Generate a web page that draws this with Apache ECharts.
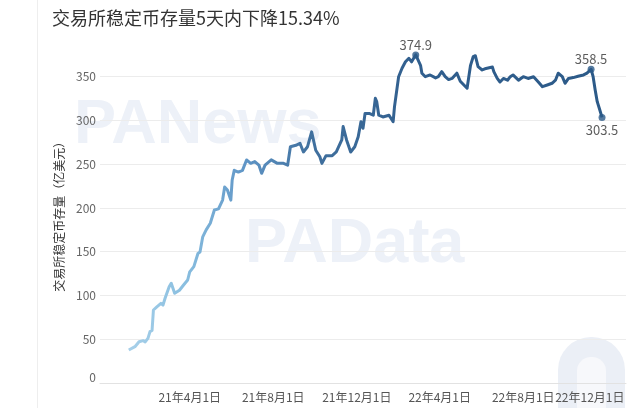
<!DOCTYPE html>
<html><head><meta charset="utf-8">
<script src="https://cdn.jsdelivr.net/npm/echarts@6/dist/echarts.min.js"></script>
<style>html,body{margin:0;padding:0;background:#fff}#c{width:639px;height:408px}</style>
</head><body><div id="c"></div><script>
const titleText = '交易所稳定币存量5天内下降15.34%';
const yAxisName = '交易所稳定币存量（亿美元）';
const dates = [
'2021-01-02','2021-01-11','2021-01-17','2021-01-23','2021-01-26','2021-01-30','2021-02-02','2021-02-05','2021-02-07','2021-02-12',
'2021-02-18','2021-02-21','2021-02-24','2021-03-02','2021-03-05','2021-03-10','2021-03-17','2021-03-23','2021-03-29','2021-04-01',
'2021-04-07','2021-04-13','2021-04-16','2021-04-20','2021-04-25','2021-05-01','2021-05-07','2021-05-13','2021-05-19','2021-05-22',
'2021-05-26','2021-05-31','2021-06-02','2021-06-05','2021-06-11','2021-06-17','2021-06-23','2021-06-29','2021-07-05','2021-07-11',
'2021-07-15','2021-07-20','2021-07-29','2021-08-07','2021-08-16','2021-08-22','2021-08-26','2021-09-03','2021-09-09','2021-09-14',
'2021-09-20','2021-09-26','2021-10-02','2021-10-08','2021-10-11','2021-10-17','2021-10-26','2021-11-01','2021-11-09','2021-11-11',
'2021-11-16','2021-11-22','2021-11-28','2021-12-03','2021-12-07','2021-12-10','2021-12-13','2021-12-19','2021-12-25','2021-12-28',
'2021-12-30','2022-01-02','2022-01-08','2022-01-17','2022-01-23','2022-01-25','2022-01-31','2022-02-05','2022-02-10','2022-02-15',
'2022-02-19','2022-02-22','2022-02-25','2022-03-04','2022-03-06','2022-03-11','2022-03-18','2022-03-26','2022-03-30','2022-04-04',
'2022-04-09','2022-04-14','2022-04-19','2022-04-26','2022-05-01','2022-05-11','2022-05-16','2022-05-20','2022-05-23','2022-05-27',
'2022-06-02','2022-06-06','2022-06-17','2022-06-19','2022-06-24','2022-06-28','2022-07-03','2022-07-09','2022-07-13','2022-07-17',
'2022-07-25','2022-08-01','2022-08-08','2022-08-16','2022-08-23','2022-08-29','2022-09-05','2022-09-12','2022-09-17','2022-09-21',
'2022-09-27','2022-10-01','2022-10-06','2022-10-13','2022-10-20','2022-10-28','2022-11-02','2022-11-08','2022-11-11','2022-11-14',
'2022-11-17','2022-11-20','2022-11-24'
];
const values = [
37.7,41.5,47.2,48.4,47,51,58.7,60,83.4,87,
91,89,96.8,110,114,102.5,106,112,117.7,127,
133,148,149.6,167,175,182.5,197.7,199,209,224,
220.6,209,232,243,241,243,254.9,251,253,249,
239.6,249,255,251,251,249,270,271.6,274,264,
270,287,266,258.6,251,259.8,259.8,264,277.7,293,
277.7,264,270,281.5,298.6,291,308,308,306,325.3,
321.6,306,304,306,298.6,315.8,350,359.6,367,371,
367,371,374.9,363,354,350,352,348.6,350,355.8,
350,346.7,348,354,344.8,336.8,363,373,374,361.5,
357.7,359,361,355.8,348,344,348,346,350,352,
346,350,348,350,344,338.6,340.5,342.5,346,354,
350,342.5,348,349,350.5,352,354,358.5,350,334.8,
321.5,314,303.5
];
const annotDates = ['2022-02-25','2022-11-08','2022-11-24'];
const annotValues = [374.9,358.5,303.5];
const xTickDates = ['2021-04-01','2021-08-01','2021-12-01','2022-04-01','2022-08-01','2022-12-01'];
const xTickLabels = ['21年4月1日','21年8月1日','21年12月1日','22年4月1日','22年8月1日','22年12月1日'];
const xMin = '2020-11-21', xMax = '2022-12-29';
const yMin = 0, yMax = 350, yStep = 50;

const FONT = '"Noto Sans CJK SC", "Noto Sans", sans-serif';
const ts = d => echarts.time.parse(d).getTime();
const tickTs = xTickDates.map(ts);
const chart = echarts.init(document.getElementById('c'), null, {renderer: 'canvas'});
chart.setOption({
  animation: false,
  backgroundColor: '#fff',
  textStyle: {fontFamily: FONT},
  title: {text: titleText, left: 47, top: 4,
    textStyle: {fontSize: 18, fontWeight: 'normal', color: '#333', fontFamily: FONT}},
  graphic: [
    {type: 'line', shape: {x1: 37.5, y1: 0, x2: 37.5, y2: 408}, style: {stroke: '#eeeeee', lineWidth: 1}, z: -10, silent: true},
    {type: 'text', x: 74, y: 126, z: -10, silent: true,
      style: {text: 'PANews', font: 'bold 63px "Liberation Sans"', fill: '#edf1f8', verticalAlign: 'middle'}},
    {type: 'text', x: 245, y: 245, z: -10, silent: true,
      style: {text: 'PAData', font: 'bold 63px "Liberation Sans"', fill: '#edf1f8', verticalAlign: 'middle'}},
    {type: 'rect', shape: {x: 558, y: 337, width: 67, height: 90, r: [33, 33, 0, 0]}, style: {fill: '#ebeff6'}, z: -10, silent: true},
    {type: 'rect', shape: {x: 577, y: 357, width: 29, height: 70, r: [14, 14, 0, 0]}, style: {fill: '#f7f8fb'}, z: -9, silent: true}
  ],
  grid: {left: 100, right: 13, top: 76.7, bottom: 25, containLabel: false},
  xAxis: {
    type: 'value', min: ts(xMin), max: ts(xMax),
    axisLine: {show: true, lineStyle: {color: '#e2e2e2'}},
    axisTick: {show: false},
    splitLine: {show: false},
    axisLabel: {
      customValues: tickTs,
      hideOverlap: false,
      color: '#555', fontSize: 12, margin: 8, fontFamily: FONT,
      formatter: function (v) {
        const i = tickTs.indexOf(v);
        if (i < 0) return '';
        return i === tickTs.length - 1 ? '{last|' + xTickLabels[i] + '}' : xTickLabels[i];
      },
      rich: {last: {padding: [0, 34, 0, 0], color: '#555', fontSize: 12, fontFamily: FONT}}
    }
  },
  yAxis: {
    type: 'value', min: yMin, max: yMax, interval: yStep,
    name: yAxisName, nameLocation: 'middle', nameGap: 32, nameRotate: 90,
    nameTextStyle: {fontSize: 12, color: '#333', fontFamily: FONT, padding: [0, 0, 0, 32]},
    axisLine: {show: false}, axisTick: {show: false},
    splitLine: {lineStyle: {color: '#ececec', width: 1}},
    axisLabel: {
      color: '#666', fontSize: 12, margin: 4, fontFamily: FONT,
      formatter: function (v) { return v === 0 ? '{z|0}' : String(v); },
      rich: {z: {padding: [0, 0, 12, 0], color: '#666', fontSize: 12, fontFamily: FONT}}
    }
  },
  series: [
    {
      type: 'line', clip: false, showSymbol: false, z: 3,
      data: dates.map((d, i) => [ts(d), values[i]]),
      lineStyle: {width: 3, join: 'round',
        color: new echarts.graphic.LinearGradient(0, 0, 1, 0, [
          {offset: 0, color: '#a9d1ea'},
          {offset: 0.12, color: '#8abfe0'},
          {offset: 0.25, color: '#5f95c6'},
          {offset: 0.38, color: '#41719f'},
          {offset: 0.6, color: '#315f8e'},
          {offset: 1, color: '#2c5a88'}
        ])}
    },
    {
      type: 'scatter', clip: false, z: 4, symbolSize: 7,
      itemStyle: {color: '#2c5a88'},
      data: annotDates.map((d, i) => ({value: [ts(d), annotValues[i]],
        label: {position: i === annotDates.length - 1 ? 'bottom' : 'top', distance: i === annotDates.length - 1 ? 3 : 0}})),
      label: {show: true, fontSize: 13, color: '#333', fontFamily: FONT,
        formatter: p => p.value[1].toFixed(1)}
    }
  ]
});
</script></body></html>
